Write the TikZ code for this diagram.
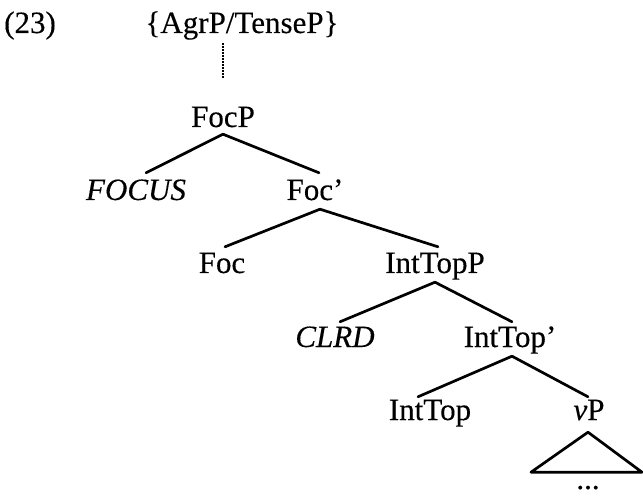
\documentclass[tikz,border=0pt]{standalone}
\usepackage{fontspec}
\setmainfont{Liberation Serif}[FakeBold=0.25]
\begin{document}
\begin{tikzpicture}[x=1pt,y=-1pt,
  lab/.style={anchor=base,inner sep=0pt,text height=20pt,text depth=9pt,font=\fontsize{31}{37}\selectfont},
  br/.style={line width=2.7pt,line cap=round,line join=round}]
\useasboundingbox (0,0) rectangle (643,497);
\node[lab,anchor=base west] (ex) at (4,33) {(23)};
\node[lab] (top) at (242,33) {\{AgrP/TenseP\}};
\node[lab] (focp) at (223,127) {FocP};
\node[lab] (focus) at (136,200) {\textit{FOCUS}};
\node[lab] (focbar) at (315,200) {Foc'};
\node[lab] (foc) at (222,273) {Foc};
\node[lab] (inttopp) at (435,273) {IntTopP};
\node[lab] (clrd) at (335,347) {\textit{CLRD}};
\node[lab] (inttopbar) at (510,347) {IntTop'};
\node[lab] (inttop) at (430,420) {IntTop};
\node[lab] (vp) at (589,420) {\textit{v}P};
\node[lab,text height=10pt,text depth=0pt] (dots) at (588,489) {...};
% dotted link
\draw[line width=1.8pt,dash pattern=on 1.4pt off 1.6pt] ([xshift=-19pt,yshift=-1pt]top.south) -- ([yshift=29pt]focp.north);
% branches
\draw[br] ([yshift=2pt]focp.south) -- ([xshift=10pt,yshift=7pt]focus.north);
\draw[br] ([yshift=2pt]focp.south) -- ([xshift=4pt,yshift=7pt]focbar.north);
\draw[br] ([xshift=5pt]focbar.south) -- ([xshift=3pt,yshift=6pt]foc.north);
\draw[br] ([xshift=5pt]focbar.south) -- ([xshift=3pt,yshift=6pt]inttopp.north);
\draw[br] (inttopp.south) -- ([xshift=5pt,yshift=5pt]clrd.north);
\draw[br] (inttopp.south) -- ([xshift=2pt,yshift=5pt]inttopbar.north);
\draw[br] ([xshift=2pt]inttopbar.south) -- ([xshift=-12pt,yshift=3pt]inttop.north);
\draw[br] ([xshift=2pt]inttopbar.south) -- ([xshift=-1pt,yshift=3pt]vp.north);
% triangle
\draw[br] ([xshift=-1pt,yshift=-3pt]vp.south) -- ++(-57,40) -- ++(111,0) -- cycle;
\end{tikzpicture}
\end{document}
